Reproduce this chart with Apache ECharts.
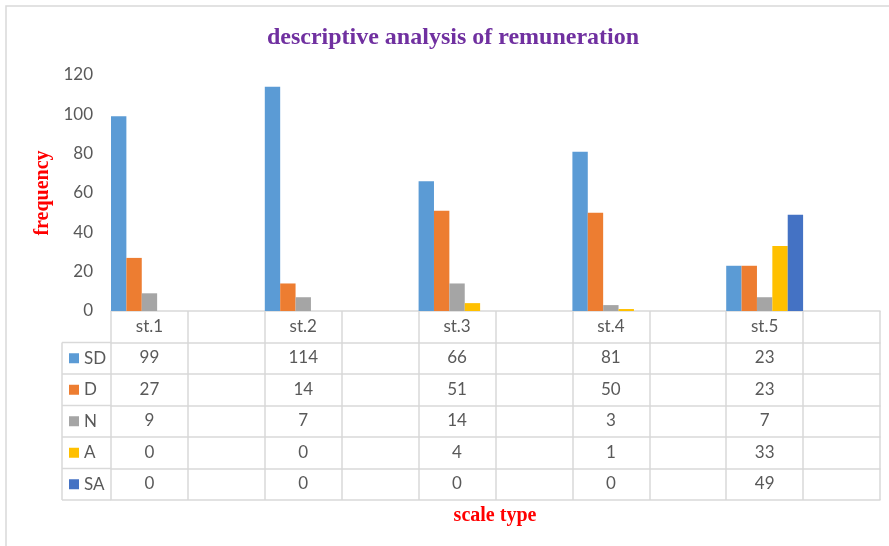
<!DOCTYPE html>
<html>
<head>
<meta charset="utf-8">
<script src="https://cdn.jsdelivr.net/npm/echarts@6/dist/echarts.min.js"></script>
<style>
  html, body { margin: 0; padding: 0; background: #fff; }
  #chart { width: 889px; height: 546px; }
</style>
</head>
<body>
<div id="chart"></div>
<script>
// data
var categories = ['st.1', 'st.2', 'st.3', 'st.4', 'st.5'];
var seriesNames = ['SD', 'D', 'N', 'A', 'SA'];
var sdValues = [99, 114, 66, 81, 23];
var dValues = [27, 14, 51, 50, 23];
var nValues = [9, 7, 14, 3, 7];
var aValues = [0, 0, 4, 1, 33];
var saValues = [0, 0, 0, 0, 49];
var yTicks = [0, 20, 40, 60, 80, 100, 120];

var colors = ['#5B9BD5', '#ED7D31', '#A5A5A5', '#FFC000', '#4472C4'];
var allValues = [sdValues, dValues, nValues, aValues, saValues];

var gridLeft = 111, gridRight = 9, gridTop = 75, gridBottom = 235;
var rowH = 31.5;
var lineColor = '#D9D9D9';
var textColor = '#595959';
var sans = 'Lato, "Open Sans", sans-serif';
var serif = '"Liberation Serif", serif';

// every category in the sheet is followed by an empty column
function withBlanks(arr, blank) {
    var out = [];
    arr.forEach(function (v) { out.push(v); out.push(blank); });
    return out;
}
var slotCats = withBlanks(categories, '');

function tableAxis(data, offset, showLabel, showTick) {
    return {
        type: 'category',
        data: data,
        gridIndex: 0,
        position: 'bottom',
        offset: offset,
        axisLine: { show: true, lineStyle: { color: lineColor, width: 1.5 } },
        axisTick: { show: showTick, interval: 0, length: rowH, lineStyle: { color: lineColor, width: 1.5 } },
        axisLabel: {
            show: showLabel, interval: 0, margin: 7,
            fontSize: 17, lineHeight: 17, color: textColor, fontFamily: sans
        },
        splitLine: { show: false }
    };
}

var xAxes = [tableAxis(slotCats, 0, true, true)];
allValues.forEach(function (vals, i) {
    xAxes.push(tableAxis(withBlanks(vals.map(String), ''), rowH * (i + 1), true, true));
});
xAxes.push(tableAxis(slotCats, rowH * 6, false, false));

var chart = echarts.init(document.getElementById('chart'));

var tableTop = 546 - gridBottom;
var legendTop = tableTop + rowH + (rowH - 17) / 2;

var graphics = [
    { type: 'rect', shape: { x: 6, y: 6, width: 900, height: 600 }, style: { fill: 'none', stroke: lineColor, lineWidth: 1.5 } },
    { type: 'line', shape: { x1: 62, y1: tableTop + rowH, x2: 62, y2: tableTop + rowH * 6 }, style: { stroke: lineColor, lineWidth: 1.5 } },
    {
        type: 'text', x: 495, y: 516,
        style: { text: 'scale type', fill: '#FF0000', font: 'bold 20px ' + serif, textAlign: 'center', textVerticalAlign: 'middle' }
    },
    {
        type: 'text', x: 453, y: 38,
        style: { text: 'descriptive analysis of remuneration', fill: '#7030A0', font: 'bold 24px ' + serif, textAlign: 'center', textVerticalAlign: 'middle' }
    }
];
for (var r = 1; r <= 6; r++) {
    graphics.push({
        type: 'line',
        shape: { x1: 62, y1: tableTop + rowH * r, x2: gridLeft, y2: tableTop + rowH * r },
        style: { stroke: lineColor, lineWidth: 1.5 }
    });
}

var option = {
    animation: false,
    color: colors,
    legend: {
        data: seriesNames,
        orient: 'vertical',
        left: 69,
        top: legendTop,
        padding: 0,
        icon: 'rect',
        itemWidth: 10,
        itemHeight: 10,
        itemGap: rowH - 17,
        selectedMode: false,
        textStyle: { fontSize: 17, lineHeight: 17, color: textColor, fontFamily: sans }
    },
    grid: { left: gridLeft, right: gridRight, top: gridTop, bottom: gridBottom },
    xAxis: xAxes,
    yAxis: {
        type: 'value',
        min: yTicks[0],
        max: yTicks[yTicks.length - 1],
        interval: yTicks[1] - yTicks[0],
        name: 'frequency',
        nameLocation: 'middle',
        nameRotate: 90,
        nameGap: 52,
        nameTextStyle: { color: '#FF0000', fontSize: 20, fontWeight: 'bold', fontFamily: serif },
        axisLine: { show: false },
        axisTick: { show: false },
        splitLine: { show: false },
        axisLabel: { margin: 18, fontSize: 17, color: textColor, fontFamily: sans }
    },
    series: seriesNames.map(function (name, i) {
        return {
            name: name,
            type: 'bar',
            xAxisIndex: 0,
            barGap: '0%',
            barCategoryGap: '0%',
            data: withBlanks(allValues[i], '-')
        };
    }),
    graphic: graphics
};

chart.setOption(option);
</script>
</body>
</html>
